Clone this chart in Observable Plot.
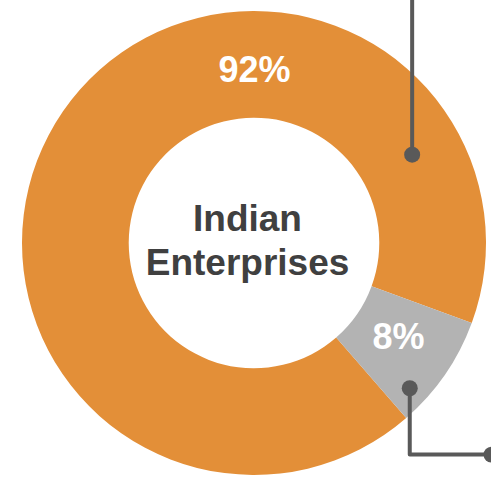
<!DOCTYPE html>
<html>
<head>
<meta charset="utf-8">
<script src="https://cdn.jsdelivr.net/npm/d3@7"></script>
<script src="https://cdn.jsdelivr.net/npm/@observablehq/plot@0.6"></script>
<style>
  html, body { margin: 0; padding: 0; background: #ffffff; }
  #chart svg { display: block; }
</style>
</head>
<body>
<div id="chart"></div>
<script>
// ---- Data ----
const categories = ["Other", "Share"];
const values = [92, 8];
const valueLabels = ["92%", "8%"];
const colors = ["#E38F38", "#B3B3B3"];
const centerTitle = "Indian\nEnterprises";
// label placement (compass degrees, radius as fraction of outer radius)
const labelAngles = [0, 123];
const labelRadii = [0.745, 0.74];
// callout dots (compass degrees, radius fraction)
const calloutAngles = [60.6, 133];
const calloutRadii = [0.78, 0.915];

// ---- Geometry helpers (units: outer radius = 1) ----
const W = 491, H = 486;
const R = 232, cx = 254, cy = 243;
const innerFrac = 0.54;
const xDomain = [-cx / R, (W - cx) / R];
const yDomain = [-(H - cy) / R, cy / R];

const pie = d3.pie().sort(null).startAngle(139 * Math.PI / 180).endAngle((139 + 360) * Math.PI / 180);
const arcsData = pie(values).map((a, i) => ({...a, category: categories[i], color: colors[i]}));

const polar = (deg, r) => {
  const t = deg * Math.PI / 180;
  return {x: r * Math.sin(t), y: r * Math.cos(t)};
};

const labels = valueLabels.map((t, i) => ({text: t, ...polar(labelAngles[i], labelRadii[i])}));
const dots = calloutAngles.map((a, i) => ({id: i, ...polar(a, calloutRadii[i])}));

// callout connector paths
const topPath = [dots[0], {x: dots[0].x, y: yDomain[1] + 0.05}];
const bottomY = -0.91;
const bottomPath = [dots[1], {x: dots[1].x, y: bottomY}, {x: xDomain[1], y: bottomY}];
const connectors = [...topPath.map(d => ({...d, g: "top"})), ...bottomPath.map(d => ({...d, g: "bottom"}))];
const endDots = [{x: xDomain[1], y: bottomY}];

const donut = (index, scales) => {
  const {x, y} = scales;
  const rp = x(1) - x(0);
  const g = d3.create("svg:g").attr("transform", `translate(${x(0)},${y(0)})`);
  const arc = d3.arc().innerRadius(rp * innerFrac).outerRadius(rp);
  g.selectAll("path").data(arcsData).join("path")
    .attr("d", arc)
    .attr("fill", d => d.color);
  return g.node();
};

const font = "'Liberation Sans', Arial, Helvetica, sans-serif";

const chart = Plot.plot({
  width: W,
  height: H,
  margin: 0,
  x: {domain: xDomain, axis: null},
  y: {domain: yDomain, axis: null},
  style: {background: "#ffffff", overflow: "hidden", fontFamily: font},
  marks: [
    donut,
    Plot.line(connectors, {x: "x", y: "y", z: "g", stroke: "#595959", strokeWidth: 4, curve: "linear"}),
    Plot.dot(dots, {x: "x", y: "y", r: 8, fill: "#595959"}),
    Plot.dot(endDots, {x: "x", y: "y", r: 8, fill: "#595959"}),
    Plot.text(labels, {x: "x", y: "y", text: "text", fill: "white", fontSize: 36, fontWeight: "bold", fontFamily: font, textAnchor: "middle", lineAnchor: "middle"}),
    Plot.text([centerTitle], {x: () => 0, y: () => 0, text: d => d, dx: -7, dy: -5, fill: "#404040", fontSize: 37, fontWeight: "bold", fontFamily: font, textAnchor: "middle", lineAnchor: "middle", lineHeight: 1.2})
  ]
});

document.getElementById("chart").appendChild(chart);
</script>
</body>
</html>
